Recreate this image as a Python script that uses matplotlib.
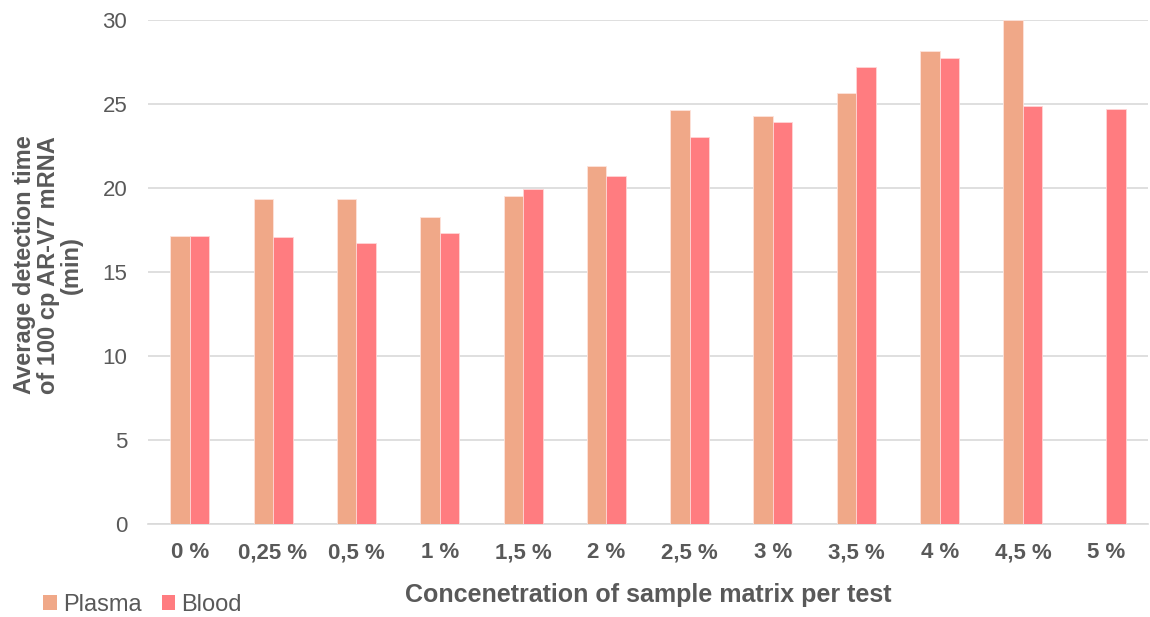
import numpy as np
import matplotlib
matplotlib.use("Agg")
import matplotlib.pyplot as plt
from matplotlib.patches import Patch

categories = ["0 %", "0,25 %", "0,5 %", "1 %", "1,5 %", "2 %", "2,5 %", "3 %",
              "3,5 %", "4 %", "4,5 %", "5 %"]
plasma = [17.15, 19.3, 19.3, 18.25, 19.5, 21.3, 24.6, 24.25, 25.65, 28.1, 29.95, np.nan]
blood = [17.15, 17.05, 16.7, 17.3, 19.9, 20.7, 23.0, 23.9, 27.2, 27.7, 24.85, 24.7]
yticks = [0, 5, 10, 15, 20, 25, 30]

plasma_color = "#F0A888"
blood_color = "#FF7C80"
text_color = "#595959"

plt.rcParams['font.family'] = ['Liberation Sans', 'DejaVu Sans']

fig = plt.figure(figsize=(11.5, 6.17), dpi=100)
ax = fig.add_axes([148 / 1150, 1 - 524 / 617, 1000 / 1150, (524 - 19.5) / 617])

x = np.arange(len(categories))
w = 0.234
ax.bar(x - w / 2, plasma, width=w, color=plasma_color, edgecolor="#FDE3DC", linewidth=0.6, zorder=3)
ax.bar(x + w / 2, blood, width=w, color=blood_color, edgecolor="#FFD6D6", linewidth=0.6, zorder=3)

ax.set_xlim(-0.5, len(categories) - 0.5)
ax.set_ylim(0, 30)
ax.set_yticks(yticks)
ax.set_yticklabels([str(v) for v in yticks], fontsize=16, color=text_color)
ax.set_xticks(x)
ax.set_xticklabels(categories, fontsize=16, fontweight="bold", color=text_color)
ax.tick_params(axis="both", length=0)
ax.tick_params(axis="y", pad=15)
ax.tick_params(axis="x", pad=13)
ax.grid(axis="y", color="#D9D9D9", linewidth=1.2, zorder=0)
for s in ["top", "right", "left"]:
    ax.spines[s].set_visible(False)
ax.spines["bottom"].set_color("#D9D9D9")
ax.spines["bottom"].set_linewidth(1.2)

fig.text(648 / 1150, 1 - 602 / 617, "Concenetration of sample matrix per test",
         ha="center", va="baseline", fontsize=18, fontweight="bold", color=text_color)
fig.text(48 / 1150, 1 - 265 / 617,
         "Average detection time\nof 100 cp AR-V7 mRNA\n(min)",
         rotation=90, ha="center", va="center", fontsize=17, fontweight="bold",
         color=text_color, linespacing=1.0, multialignment="center")

handles = [Patch(facecolor=plasma_color, edgecolor="none"),
           Patch(facecolor=blood_color, edgecolor="none")]
fig.legend(handles, ["Plasma", "Blood"], loc="center left",
           bbox_to_anchor=(43 / 1150, 1 - 605 / 617), ncol=2, frameon=False,
           fontsize=17, handlelength=0.59, handleheight=0.59, handletextpad=0.25,
           columnspacing=0.85, borderpad=0, borderaxespad=0, labelcolor=text_color)

fig.savefig("out.png", dpi=100)
